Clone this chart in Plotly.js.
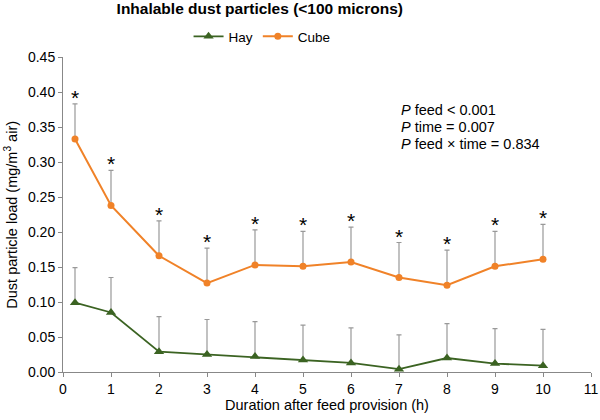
<!DOCTYPE html>
<html><head><meta charset="utf-8">
<script src="https://cdn.plot.ly/plotly-3.0.1.min.js"></script>
<style>body{margin:0;background:#fff}#c{width:600px;height:420px}</style>
</head><body><div id="c"></div>
<script>
const hours = [0.25, 1, 2, 3, 4, 5, 6, 7, 8, 9, 10];
const hayMean = [0.099, 0.085, 0.029, 0.025, 0.022, 0.017, 0.013, 0.004, 0.020, 0.012, 0.009];
const haySD   = [0.050, 0.050, 0.050, 0.050, 0.050, 0.050, 0.050, 0.049, 0.049, 0.050, 0.052];
const cubeMean = [0.333, 0.238, 0.166, 0.127, 0.153, 0.151, 0.157, 0.135, 0.124, 0.151, 0.161];
const cubeSD   = [0.050, 0.050, 0.050, 0.050, 0.050, 0.050, 0.050, 0.050, 0.050, 0.050, 0.050];
const significant = [true, true, true, true, true, true, true, true, true, true, true];
const statLines = ["<i>P</i> feed < 0.001", "<i>P</i> time = 0.007", "<i>P</i> feed × time = 0.834"];
const statY = [0.374, 0.350, 0.326];

const font = {family: 'Arial, "Liberation Sans", sans-serif', color: '#000'};
const errStyle = {type: 'data', symmetric: false, color: '#999999', thickness: 1.2, width: 2.5};

const traces = [
  {x: hours, y: hayMean, name: 'Hay', mode: 'lines+markers', type: 'scatter',
   line: {color: '#3b6322', width: 1.8}, marker: {symbol: 'triangle-up', size: 9, color: '#3b6322'},
   error_y: Object.assign({array: haySD, arrayminus: hayMean.map(() => 0)}, errStyle)},
  {x: hours, y: cubeMean, name: 'Cube', mode: 'lines+markers', type: 'scatter',
   line: {color: '#f08228', width: 2}, marker: {symbol: 'circle', size: 7, color: '#f08228'},
   error_y: Object.assign({array: cubeSD, arrayminus: cubeMean.map(() => 0)}, errStyle)}
];

const annotations = [];
hours.forEach((h, i) => {
  if (significant[i]) annotations.push({x: h, y: cubeMean[i] + cubeSD[i], xref: 'x', yref: 'y',
    text: '*', showarrow: false, yanchor: 'bottom', yshift: -7,
    font: Object.assign({}, font, {size: 21})});
});
statLines.forEach((t, i) => annotations.push({x: 7.0, y: statY[i], xref: 'x', yref: 'y', text: t,
  showarrow: false, xanchor: 'left', yanchor: 'middle', font: Object.assign({}, font, {size: 14.5})}));
annotations.push({x: -0.1, y: 0.5, xref: 'paper', yref: 'paper', text: 'Dust particle load (mg/m<sup>3</sup> air)',
  textangle: -90, showarrow: false, xanchor: 'center', yanchor: 'middle',
  font: Object.assign({}, font, {size: 14.5})});

const axisCommon = {showgrid: false, zeroline: false, showline: true, linecolor: '#888', linewidth: 1,
  ticks: 'outside', tickcolor: '#888', ticklen: 4, tickfont: Object.assign({}, font, {size: 14})};

const layout = {
  width: 600, height: 420, paper_bgcolor: '#fff', plot_bgcolor: '#fff',
  margin: {l: 63, r: 9, t: 57, b: 48},
  font: font,
  title: {text: '<b>Inhalable dust particles (<100 microns)</b>', x: 0.433, xanchor: 'center', y: 0.993, yanchor: 'top',
    font: Object.assign({}, font, {size: 15.5})},
  showlegend: true,
  legend: {orientation: 'h', x: 0.377, xanchor: 'center', y: 1.065, yanchor: 'middle', font: Object.assign({}, font, {size: 13.5}),
    itemwidth: 30, tracegroupgap: 0},
  xaxis: Object.assign({}, axisCommon, {range: [0, 11], tickmode: 'linear', tick0: 0, dtick: 1,
    title: {text: 'Duration after feed provision (h)', font: Object.assign({}, font, {size: 14.5}), standoff: 4}}),
  yaxis: Object.assign({}, axisCommon, {range: [0, 0.45], tickmode: 'linear', tick0: 0, dtick: 0.05, tickformat: '.2f'}),
  annotations: annotations
};
Plotly.newPlot('c', traces, layout, {displayModeBar: false, staticPlot: true});
</script></body></html>
